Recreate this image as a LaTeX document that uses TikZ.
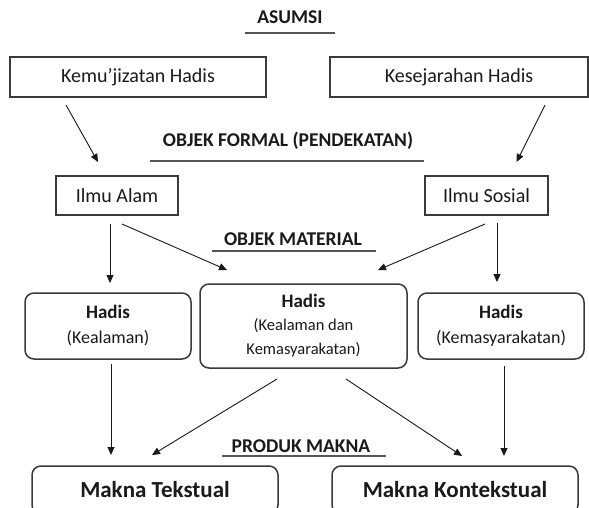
\documentclass[tikz,border=0pt]{standalone}
\usepackage{fontspec}
\setmainfont{Carlito}
\usetikzlibrary{arrows.meta,calc}
\definecolor{boxline}{HTML}{3A3A3A}
\definecolor{txt}{HTML}{1A1A1A}
\definecolor{uline}{HTML}{555555}
\tikzset{
  sqbox/.style={draw=boxline, line width=1.5pt, inner sep=0pt, outer sep=0pt, text=txt, align=center,
    font=\fontsize{20}{24}\selectfont},
  rbox/.style={sqbox, rounded corners=9pt},
  head/.style={anchor=base, inner sep=0pt, text=txt, font=\fontsize{19.5}{23}\selectfont\bfseries},
  uln/.style={draw=uline, line width=2pt},
  arr/.style={draw=black!90, line width=0.9pt, -{Triangle[length=8pt,width=7pt]}}
}
\begin{document}
\begin{tikzpicture}[x=1pt,y=-1pt]
\clip (0,0) rectangle (589,507);
\fill[white] (0,0) rectangle (589,507);

% headings
\node[head] (asumsi) at (290,23) {ASUMSI};
\draw[uln] (245,33) -- (335,33);
\node[head] (formal) at (288,146) {OBJEK FORMAL (PENDEKATAN)};
\draw[uln] (150,161) -- (424,161);
\node[head] (material) at (293,245) {OBJEK MATERIAL};
\draw[uln] (212,251) -- (376,251);
\node[head] (produk) at (301,452) {PRODUK MAKNA};
\draw[uln] (222,456) -- (386,456);

% boxes
\node[sqbox, minimum width=256pt, minimum height=40pt] (k1) at (138,77) {Kemu’jizatan Hadis};
\node[sqbox, minimum width=258pt, minimum height=40pt] (k2) at (459,77) {Kesejarahan Hadis};
\node[sqbox, minimum width=122pt, minimum height=39pt] (ia) at (117,195.5) {Ilmu Alam};
\node[sqbox, minimum width=123pt, minimum height=39pt] (is) at (486.5,195.5) {Ilmu Sosial};

\node[rbox, minimum width=166pt, minimum height=66pt] (hl) at (108,326)
  {{\fontsize{19}{24}\selectfont\bfseries Hadis}\\[1pt]{\fontsize{18}{22}\selectfont (Kealaman)}};
\node[rbox, minimum width=207pt, minimum height=84pt] (hm) at (303.5,326)
  {{\fontsize{19}{22}\selectfont\bfseries Hadis}\\[-1pt]{\fontsize{16.5}{21.5}\selectfont (Kealaman dan}\\{\fontsize{16.5}{21.5}\selectfont Kemasyarakatan)}};
\node[rbox, minimum width=166pt, minimum height=66pt] (hr) at (501,326)
  {{\fontsize{19}{24}\selectfont\bfseries Hadis}\\[1pt]{\fontsize{18}{22}\selectfont (Kemasyarakatan)}};

\node[rbox, minimum width=246pt, minimum height=48pt, font=\fontsize{23}{27}\selectfont\bfseries] (mt) at (155,490) {Makna Tekstual};
\node[rbox, minimum width=246pt, minimum height=48pt, font=\fontsize{23}{27}\selectfont\bfseries] (mk) at (455,490) {Makna Kontekstual};

% arrows
\draw[arr] ($(k1.south west)+(56,8)$) -- ($(ia.north west)+(42,-14)$);
\draw[arr] ($(k2.south east)+(-43,8)$) -- ($(is.north east)+(-31.5,-14)$);
\draw[arr] ($(ia.south)+(-7,9)$) -- ($(hl.north)+(2,-10)$);
\draw[arr] ($(ia.south east)+(-56,9)$) -- ($(hm.north west)+(27,-14)$);
\draw[arr] ($(is.south west)+(60,9)$) -- ($(hm.north east)+(-29,-14)$);
\draw[arr] ($(is.south)+(10.5,8)$) -- ($(hr.north)+(-4,-11)$);
\draw[arr] ($(hl.south)+(3,5)$) -- ($(mt.north west)+(79,-11)$);
\draw[arr] ($(hm.south)+(-26.5,11)$) -- ($(mt.north east)+(-126,-11)$);
\draw[arr] ($(hm.south)+(42.5,11)$) -- ($(mk.north west)+(130,-10)$);
\draw[arr] ($(hr.south)+(3,7)$) -- ($(mk.north east)+(-74,-10)$);
\end{tikzpicture}
\end{document}
